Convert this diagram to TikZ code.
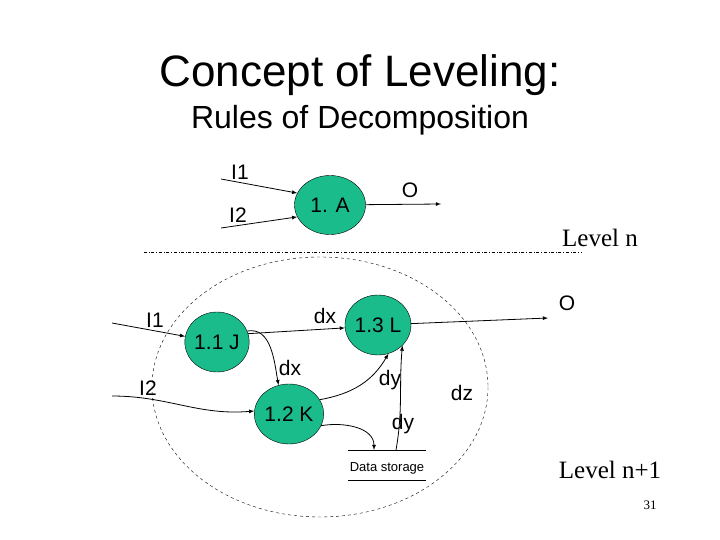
\documentclass[tikz,border=0pt]{standalone}
\usepackage{fontspec}
\setmainfont{Liberation Sans}
\newfontfamily\serifface{Liberation Serif}
\usetikzlibrary{positioning,calc,shapes.geometric}
\definecolor{procgreen}{RGB}{26,188,140}

\begin{document}
\begin{tikzpicture}[x=1pt, y=-1pt,
    proc/.style={ellipse, draw=black, fill=procgreen, minimum width=61pt, minimum height=60pt, inner sep=0pt, font=\fontsize{21}{23}\selectfont},
    flow/.style={-latex, thick},
    lbl/.style={font=\fontsize{21}{23}\selectfont}]
    \useasboundingbox (0,0) rectangle (720,540);
    % TITLE
    \node (title) at (360,75) {\fontsize{44}{48}\selectfont Concept of Leveling:};
    \node (subtitle) at (360,120) {\fontsize{32}{35}\selectfont Rules of Decomposition};
    % LEVEL N
    \node[proc, minimum width=71pt, minimum height=59pt] (A) at (330,205) {1. A};
    \coordinate (aI1) at (221,179);
    \coordinate (aI2) at (221,228);
    \coordinate (aO) at (441,204);
    \draw[flow] (aI1) -- (A.160);
    \draw[flow] (aI2) -- (A.200);
    \draw[flow] (A) -- (aO);
    \node[lbl] at (240,172) {I1};
    \node[lbl] at (238,215) {I2};
    \node[lbl] at (410,190) {O};
    \node[font=\serifface\fontsize{25}{27}\selectfont] at (600,238) {Level n};
    \draw[dash dot, thin] (144,252) -- (582,252);
    % LEVEL N+1
    \draw[dashed, thin] (320,387) ellipse [x radius=168, y radius=130];
    \node[proc] (J) at (217,342) {1.1 J};
    \node[proc] (L) at (378,325) {1.3 L};
    \node[proc] (K) at (289,414) {1.2 K};
    \coordinate (bI1) at (112,323);
    \coordinate (bI2) at (112,396);
    \coordinate (bO) at (548,318);
    \draw[flow] (bI1) -- (J.170);
    \draw[flow] (bI2) to[out=0, in=185] (K.175);
    \draw[flow] (J.15) -- (L.185);
    \draw[flow] (J.20) to[out=10, in=100] (K.110);
    \draw[flow] (L) -- (bO);
    \draw[flow] (K.25) to[out=10, in=240] (L.290);
    % DATA STORAGE
    \coordinate (dsA) at (348,450);
    \coordinate (dsB) at (426,450);
    \coordinate (dsC) at (348,480);
    \coordinate (dsD) at (426,480);
    \coordinate (dsIn) at (374,450);
    \coordinate (dsOut) at (396,450);
    \draw (dsA) -- (dsB);
    \draw (dsC) -- (dsD);
    \node[font=\fontsize{13}{15}\selectfont] at (387,468) {Data storage};
    \draw[flow] (K.340) to[out=10, in=90] (dsIn);
    \draw[flow] (dsOut) to[out=80, in=265] (L.320);
    \node[lbl] at (155,320) {I1};
    \node[lbl] at (148,388) {I2};
    \node[lbl] at (325,316) {dx};
    \node[lbl] at (290,368) {dx};
    \node[lbl] at (567,303) {O};
    \node[lbl] at (390,380) {dy};
    \node[lbl] at (403,424) {dy};
    \node[lbl] at (462,393) {dz};
    \node[font=\serifface\fontsize{25}{27}\selectfont] at (610,470) {Level n+1};
    \node[font=\serifface\fontsize{13}{15}\selectfont] at (650,505) {31};
\end{tikzpicture}
\end{document}
